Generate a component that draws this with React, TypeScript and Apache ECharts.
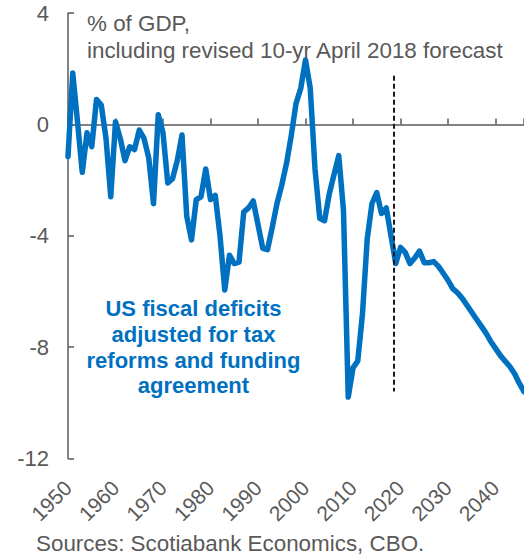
import React, { useEffect, useRef } from "react";
import * as echarts from "echarts";

const years: number[] = [];
for (let y = 1950; y <= 2046; y++) years.push(y);

const deficits: number[] = [
  // 1950-1959
  -1.15, 1.85, 0.1, -1.72, -0.3, -0.8, 0.9, 0.7, -0.5, -2.6,
  // 1960-1969
  0.1, -0.5, -1.3, -0.8, -0.9, -0.2, -0.5, -1.2, -2.85, 0.35,
  // 1970-1979
  -0.3, -2.1, -1.95, -1.3, -0.38, -3.3, -4.15, -2.7, -2.6, -1.6,
  // 1980-1989
  -2.7, -2.55, -4.0, -5.95, -4.7, -5.0, -4.95, -3.15, -3.0, -2.75,
  // 1990-1999
  -3.6, -4.45, -4.5, -3.7, -2.84, -2.18, -1.4, -0.4, 0.75, 1.3,
  // 2000-2009
  2.32, 1.3, -1.6, -3.37, -3.46, -2.5, -1.8, -1.12, -3.1, -9.8,
  // 2010-2019
  -8.75, -8.5, -6.8, -4.1, -2.84, -2.45, -3.2, -3.0, -4.0, -5.0,
  // 2020-2029
  -4.42, -4.6, -5.0, -4.8, -4.55, -4.97, -4.97, -4.93, -5.1, -5.35,
  // 2030-2039
  -5.6, -5.9, -6.05, -6.25, -6.5, -6.75, -7.0, -7.25, -7.5, -7.8,
  // 2040-2046
  -8.05, -8.3, -8.5, -8.7, -8.95, -9.3, -9.6,
];

const yTicks = [4, 0, -4, -8, -12];
const xLabelYears = [1950, 1960, 1970, 1980, 1990, 2000, 2010, 2020, 2030, 2040];
const forecastStart = 2018.5;
const forecastLineRange = [1.75, -9.6];

const titleLines = ["% of GDP,", "including revised 10-yr April 2018 forecast"];
const annotationLines = ["US fiscal deficits", "adjusted for tax", "reforms and funding", "agreement"];
const sourceText = "Sources: Scotiabank Economics, CBO.";

const FONT = "'Liberation Sans', Arial, Helvetica, sans-serif";
const GRAY = "#595959";
const BLUE = "#0070C0";

export default function App() {
  const ref = useRef<HTMLDivElement>(null);

  useEffect(() => {
    if (!ref.current) return;
    const chart = echarts.init(ref.current, undefined, { renderer: "svg" });
    const seriesData = years.map((y, i) => [y, deficits[i]]);
    chart.setOption({
      animation: false,
      backgroundColor: "#ffffff",
      textStyle: { fontFamily: FONT },
      title: {
        text: titleLines.join("\n"),
        left: 87,
        top: 9.5,
        padding: 0,
        textStyle: {
          fontFamily: FONT,
          fontSize: 22.4,
          fontWeight: "normal",
          color: GRAY,
          lineHeight: 27,
        },
      },
      grid: { left: 68, top: 13.2, right: -2, bottom: 95.7, containLabel: false },
      xAxis: [
        {
          type: "value",
          min: 1950,
          max: 2046,
          interval: 10,
          position: "bottom",
          axisLine: { show: false, onZero: false },
          axisTick: { show: false },
          splitLine: { show: false },
          axisLabel: {
            rotate: 45,
            fontSize: 21,
            color: GRAY,
            fontFamily: FONT,
            margin: 26,
            showMaxLabel: false,
            formatter: (v: number) => (xLabelYears.includes(v) ? String(v) : ""),
          },
        },
        {
          type: "value",
          min: 1950,
          max: 2046,
          interval: 10,
          position: "top",
          axisLine: { show: true, onZero: true, lineStyle: { color: GRAY, width: 1.5 } },
          axisTick: { show: true, inside: false, length: 6, lineStyle: { color: GRAY, width: 1.5 } },
          axisLabel: { show: false },
          splitLine: { show: false },
        },
      ],
      yAxis: {
        type: "value",
        min: -12,
        max: 4,
        interval: 4,
        axisLine: { show: true, onZero: false, lineStyle: { color: GRAY, width: 1.5 } },
        axisTick: { show: true, inside: true, length: 6, lineStyle: { color: GRAY, width: 1.5 } },
        splitLine: { show: false },
        axisLabel: {
          fontSize: 22,
          color: GRAY,
          fontFamily: FONT,
          margin: 19,
          formatter: (v: number) => (yTicks.includes(v) ? String(v) : ""),
        },
      },
      series: [
        {
          type: "line",
          xAxisIndex: 0,
          yAxisIndex: 0,
          data: seriesData,
          showSymbol: false,
          symbol: "none",
          lineStyle: { color: BLUE, width: 5.5, join: "round", cap: "round" },
          z: 3,
          markLine: {
            silent: true,
            symbol: ["none", "none"],
            label: { show: false },
            lineStyle: { color: "#1a1a1a", width: 2, type: [5, 3] },
            data: [
              [
                { coord: [forecastStart, forecastLineRange[0]] },
                { coord: [forecastStart, forecastLineRange[1]] },
              ],
            ],
          },
        },
      ],
      graphic: [
        {
          type: "text",
          x: 193.5,
          y: 296,
          style: {
            text: annotationLines.join("\n"),
            align: "center",
            verticalAlign: "top",
            fontFamily: FONT,
            fontSize: 22,
            fontWeight: "bold",
            lineHeight: 25.7,
            fill: BLUE,
          },
        },
        {
          type: "text",
          x: 36,
          y: 543,
          style: {
            text: sourceText,
            align: "left",
            verticalAlign: "middle",
            fontFamily: FONT,
            fontSize: 22.4,
            fill: GRAY,
          },
        },
      ],
    });
    return () => chart.dispose();
  }, []);

  return (
    <div
      ref={ref}
      style={{ position: "absolute", left: 0, top: 0, width: 524, height: 554, background: "#fff" }}
    />
  );
}
